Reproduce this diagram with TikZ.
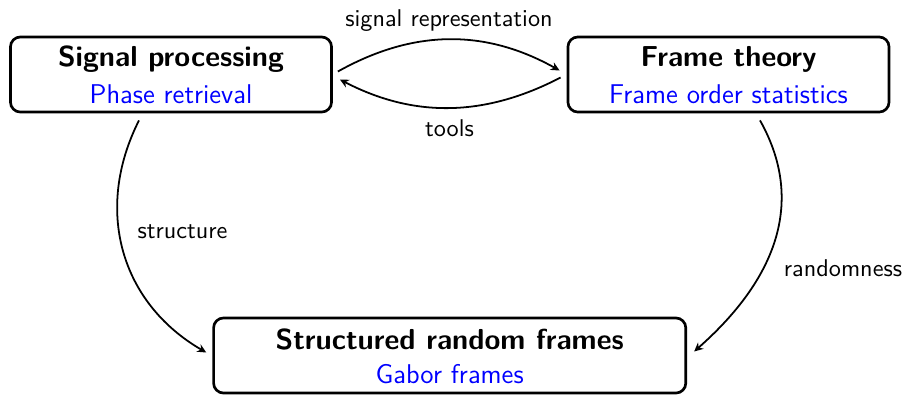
\documentclass[tikz,border=0pt]{standalone}
\usetikzlibrary{calc,arrows.meta}
\renewcommand{\familydefault}{\sfdefault}
\begin{document}
\begin{tikzpicture}[
  x=0.45pt, y=-0.45pt,
  box/.style={draw, line width=1.2pt, rounded corners=4.5pt, inner sep=0pt},
  boxtitle/.style={anchor=base, inner sep=0pt, font=\fontsize{13}{15}\selectfont\bfseries},
  boxsub/.style={anchor=base, inner sep=0pt, text=blue, font=\fontsize{12.2}{14}\selectfont},
  edgelabel/.style={anchor=base, inner sep=0pt, font=\fontsize{10.9}{13}\selectfont},
  link/.style={line width=0.8pt, -{Stealth[length=4pt, width=3.8pt, inset=1.3pt]}}
]
\useasboundingbox (0,0) rectangle (905,394);

% the three topic boxes
\node[box, minimum width=144.5pt, minimum height=33.8pt] (L) at (171,74.5) {};
\node[box, minimum width=144.5pt, minimum height=33.8pt] (R) at (728.5,74.5) {};
\node[box, minimum width=212.5pt, minimum height=33.8pt] (B) at (449.7,355.5) {};

\node[boxtitle] (Lt) at ($(L.center)+(0,-8.5)$) {Signal processing};
\node[boxsub]   (Ls) at ($(L.center)+(0,28.5)$) {Phase retrieval};
\node[boxtitle] (Rt) at ($(R.center)+(0,-8.5)$) {Frame theory};
\node[boxsub]   (Rs) at ($(R.center)+(0,28.5)$) {Frame order statistics};
\node[boxtitle] (Bt) at ($(B.center)+(0,-6.5)$) {Structured random frames};
\node[boxsub]   (Bs) at ($(B.center)+(0,27.5)$) {Gabor frames};

% connectors between the boxes
\draw[link] ($(L.east)+(5,-3)$) .. controls +(75,-42) and +(-75,-42) .. ($(R.west)+(-7,-4)$);
\draw[link] ($(R.west)+(-6,3)$) .. controls +(-75,39) and +(75,39) .. ($(L.east)+(7,5)$);
\draw[link] ($(L.south)+(-32,7)$) .. controls +(-45,89) and +(-86,-50) .. ($(B.west)+(-6,-3)$);
\draw[link] ($(R.south)+(31.5,7)$) .. controls +(49,87) and +(75,-66) .. ($(B.east)+(7,-4)$);

% connector labels
\node[edgelabel] (sr) at (449,26) {signal representation};
\node[edgelabel] (tl) at (449.5,136) {tools};
\node[edgelabel] (st) at (182.5,238) {structure};
\node[edgelabel] (rd) at (843,276) {randomness};
\end{tikzpicture}
\end{document}
